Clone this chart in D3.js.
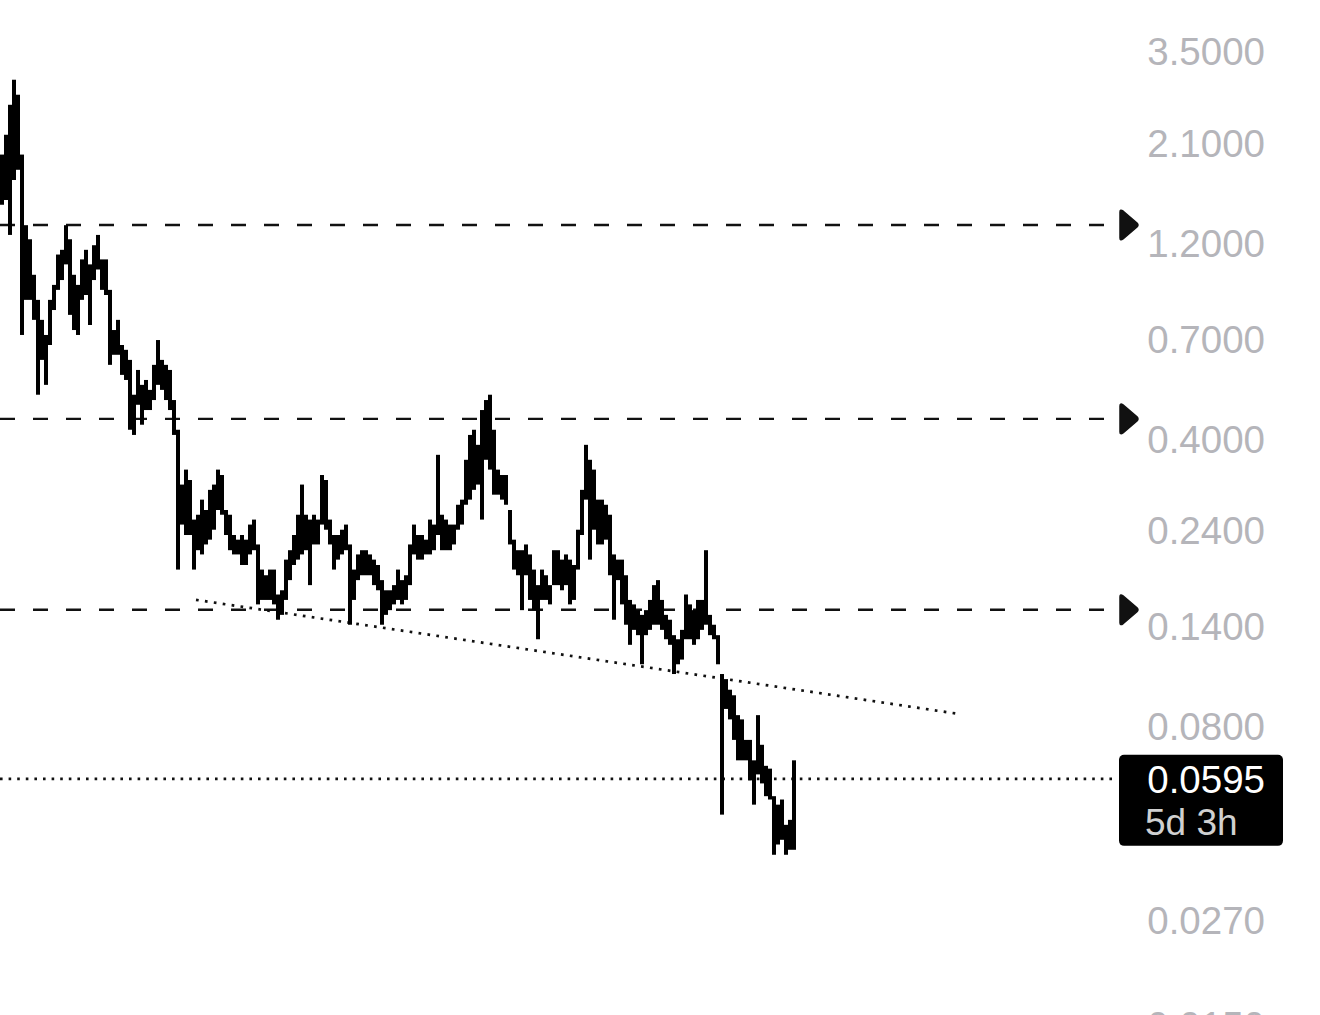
<!DOCTYPE html>
<html>
<head>
<meta charset="utf-8">
<script src="https://cdn.jsdelivr.net/npm/d3@7"></script>
<style>
  html, body { margin: 0; padding: 0; background: #fff; }
  svg { display: block; }
</style>
</head>
<body>
<svg width="1320" height="1015"></svg>
<script>
// bar highs / lows, one bar per period, oldest first
const highs = [
  1.96, 2.19, 2.59, 2.98, 2.74, 1.96, 1.32, 1.22, 1.00, 0.869,
  0.777, 0.714, 0.869, 0.945, 1.12, 1.15, 1.32, 1.22, 1.00, 0.945,
  1.09, 1.15, 1.06, 1.18, 1.25, 1.09, 1.09, 0.919, 0.734, 0.777,
  0.675, 0.657, 0.621, 0.511, 0.587, 0.540, 0.555, 0.525, 0.604, 0.694,
  0.621, 0.604, 0.587, 0.496, 0.420, 0.309, 0.336, 0.317, 0.254, 0.261,
  0.284, 0.268, 0.300, 0.309, 0.336, 0.326, 0.268, 0.261, 0.233, 0.227,
  0.233, 0.227, 0.247, 0.254, 0.221, 0.192, 0.186, 0.192, 0.192, 0.167,
  0.171, 0.203, 0.214, 0.233, 0.261, 0.309, 0.261, 0.254, 0.261, 0.254,
  0.326, 0.317, 0.254, 0.233, 0.233, 0.240, 0.247, 0.221, 0.192, 0.209,
  0.214, 0.214, 0.209, 0.203, 0.197, 0.181, 0.171, 0.171, 0.176, 0.192,
  0.181, 0.186, 0.221, 0.247, 0.233, 0.233, 0.227, 0.254, 0.247, 0.365,
  0.261, 0.254, 0.247, 0.247, 0.276, 0.284, 0.355, 0.408, 0.420, 0.386,
  0.469, 0.496, 0.511, 0.420, 0.336, 0.326, 0.326, 0.268, 0.227, 0.214,
  0.214, 0.221, 0.209, 0.192, 0.176, 0.192, 0.186, 0.176, 0.214, 0.214,
  0.203, 0.209, 0.203, 0.197, 0.240, 0.300, 0.386, 0.355, 0.336, 0.284,
  0.284, 0.276, 0.261, 0.209, 0.203, 0.203, 0.186, 0.162, 0.158, 0.153,
  0.149, 0.153, 0.162, 0.176, 0.181, 0.162, 0.149, 0.145, 0.133, 0.130,
  0.137, 0.167, 0.158, 0.153, 0.162, 0.162, 0.214, 0.149, 0.141, 0.133,
  0.107, 0.104, 0.098, 0.095, 0.085, 0.083, 0.074, 0.074, 0.066, 0.085,
  0.072, 0.064, 0.063, 0.054, 0.0515, 0.053, 0.046, 0.0473, 0.066
];
const lows = [
  1.48, 1.52, 1.25, 1.70, 1.80, 0.714, 0.869, 0.869, 0.777, 0.511,
  0.621, 0.540, 0.675, 0.821, 0.919, 0.971, 1.06, 0.799, 0.734, 0.714,
  0.869, 0.893, 0.755, 0.971, 1.03, 0.919, 0.893, 0.604, 0.639, 0.639,
  0.571, 0.555, 0.420, 0.408, 0.483, 0.432, 0.469, 0.469, 0.496, 0.540,
  0.525, 0.496, 0.469, 0.408, 0.192, 0.247, 0.233, 0.233, 0.192, 0.214,
  0.209, 0.221, 0.227, 0.240, 0.268, 0.261, 0.233, 0.214, 0.209, 0.209,
  0.197, 0.197, 0.209, 0.214, 0.158, 0.162, 0.162, 0.162, 0.158, 0.145,
  0.149, 0.162, 0.181, 0.197, 0.203, 0.209, 0.214, 0.176, 0.221, 0.221,
  0.247, 0.240, 0.221, 0.192, 0.203, 0.209, 0.214, 0.141, 0.162, 0.181,
  0.186, 0.186, 0.186, 0.176, 0.171, 0.141, 0.149, 0.153, 0.158, 0.162,
  0.158, 0.162, 0.176, 0.209, 0.203, 0.203, 0.209, 0.209, 0.214, 0.233,
  0.214, 0.214, 0.214, 0.221, 0.240, 0.247, 0.276, 0.284, 0.300, 0.309,
  0.254, 0.355, 0.336, 0.292, 0.292, 0.284, 0.276, 0.221, 0.192, 0.186,
  0.153, 0.186, 0.162, 0.153, 0.130, 0.162, 0.162, 0.158, 0.176, 0.176,
  0.171, 0.176, 0.158, 0.162, 0.192, 0.233, 0.284, 0.203, 0.240, 0.221,
  0.221, 0.227, 0.186, 0.145, 0.181, 0.158, 0.141, 0.126, 0.137, 0.133,
  0.113, 0.133, 0.137, 0.141, 0.141, 0.137, 0.130, 0.126, 0.107, 0.113,
  0.116, 0.130, 0.130, 0.126, 0.130, 0.137, 0.141, 0.133, 0.130, 0.113,
  0.0487, 0.088, 0.083, 0.074, 0.066, 0.066, 0.066, 0.059, 0.0515, 0.061,
  0.058, 0.054, 0.053, 0.0389, 0.0412, 0.0423, 0.0389, 0.040, 0.040
];

const priceTicks = [3.5, 2.1, 1.2, 0.7, 0.4, 0.24, 0.14, 0.08, 0.027, 0.015];
const alertLevels = [1.3215, 0.4463, 0.1533];
const lastPrice = 0.0595;
const countdown = "5d 3h";
// trend line drawn by hand: [bar index, price]
const trendLine = [[48.5, 0.1621], [238.75, 0.0857]];
const totalSlots = 278;

let svg = d3.select("svg");
let plotRight = 1112;
let font = "'Liberation Sans', Arial, sans-serif";

let x = d3.scaleLinear().domain([-0.5, totalSlots - 0.5]).range([0, plotRight]);
let y = d3.scaleLog().domain([3.5, 0.027]).range([51, 920]);

let bars = highs.map((h, i) => ({i: i, high: h, low: lows[i]}));

// horizontal alert levels (dashed) + markers
svg.append("g").selectAll("line")
  .data(alertLevels)
  .enter().append("line")
  .attr("x1", 0).attr("x2", plotRight)
  .attr("y1", d => y(d)).attr("y2", d => y(d))
  .attr("stroke", "#111")
  .attr("stroke-width", 2.4)
  .attr("stroke-dasharray", "15,18");

svg.append("g").selectAll("path")
  .data(alertLevels)
  .enter().append("path")
  .attr("d", "M0,-13 Q0,-16 3,-14 L17,-2 Q19,0 17,2 L3,14 Q0,16 0,13 Z")
  .attr("transform", d => "translate(1120," + y(d) + ")")
  .attr("fill", "#111")
  .attr("stroke", "#111")
  .attr("stroke-width", 1.5)
  .attr("stroke-linejoin", "round");

// last price dotted line
svg.append("line")
  .attr("x1", 0).attr("x2", plotRight)
  .attr("y1", y(lastPrice)).attr("y2", y(lastPrice))
  .attr("stroke", "#111")
  .attr("stroke-width", 2.6)
  .attr("stroke-dasharray", "2.6,6");

// trend line
svg.append("line")
  .attr("x1", x(trendLine[0][0])).attr("y1", y(trendLine[0][1]))
  .attr("x2", x(trendLine[1][0])).attr("y2", y(trendLine[1][1]))
  .attr("stroke", "#111")
  .attr("stroke-width", 2.7)
  .attr("stroke-dasharray", "2.7,6.3");

// price bars
svg.append("g").selectAll("rect")
  .data(bars)
  .enter().append("rect")
  .attr("x", d => x(d.i) - 2)
  .attr("width", 4)
  .attr("y", d => y(d.high))
  .attr("height", d => Math.max(2, y(d.low) - y(d.high)))
  .attr("fill", "#000");

// right price axis
let axis = svg.append("g")
  .attr("transform", "translate(1265,0)")
  .call(d3.axisRight(y).tickValues(priceTicks).tickFormat(d3.format(".4f")).tickSize(0));
axis.select(".domain").remove();
axis.selectAll("text")
  .attr("x", 0)
  .attr("dy", "0.36em")
  .style("text-anchor", "end")
  .style("font-family", font)
  .style("font-size", "38.5px")
  .style("fill", "#b5b5ba");

// last price tag
let tag = svg.append("g");
tag.append("rect")
  .attr("x", 1119).attr("y", y(lastPrice) - 24)
  .attr("width", 164).attr("height", 91)
  .attr("rx", 5)
  .attr("fill", "#000");
tag.append("text")
  .attr("x", 1265).attr("y", y(lastPrice) + 14)
  .style("text-anchor", "end")
  .style("font-family", font)
  .style("font-size", "38.5px")
  .style("fill", "#fff")
  .text(d3.format(".4f")(lastPrice));
tag.append("text")
  .attr("x", 1145).attr("y", y(lastPrice) + 56)
  .style("font-family", font)
  .style("font-size", "37px")
  .style("fill", "#d0d0d0")
  .text(countdown);
</script>
</body>
</html>
